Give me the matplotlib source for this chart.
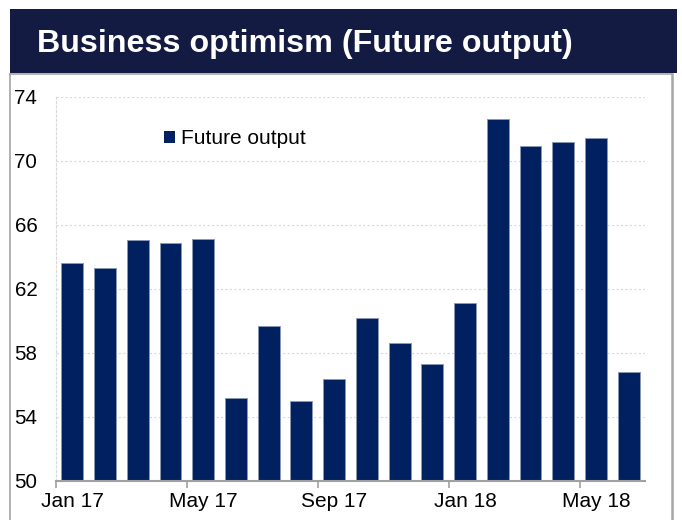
import matplotlib
matplotlib.use("Agg")
import matplotlib.pyplot as plt
from matplotlib.patches import Rectangle
from matplotlib.lines import Line2D

months = ["Jan 17", "Feb 17", "Mar 17", "Apr 17", "May 17", "Jun 17", "Jul 17", "Aug 17",
          "Sep 17", "Oct 17", "Nov 17", "Dec 17", "Jan 18", "Feb 18", "Mar 18", "Apr 18",
          "May 18", "Jun 18"]
future_output = [63.6, 63.3, 65.05, 64.9, 65.1, 55.2, 59.7, 55.0, 56.35, 60.2, 58.6, 57.3,
                 61.1, 72.6, 70.95, 71.2, 71.45, 56.8]
y_ticks = [50, 54, 58, 62, 66, 70, 74]
label_every = 4
title = "Business optimism (Future output)"
series_name = "Future output"

plt.rcParams['font.family'] = ['Liberation Sans', 'DejaVu Sans']

W, H = 682, 520
fig = plt.figure(figsize=(W / 100, H / 100), dpi=100)

def fx(px):
    return px / W

def fy(py):
    return 1 - py / H

# Title bar
fig.patches.append(Rectangle((fx(10), fy(73)), fx(677) - fx(10), fy(9) - fy(73),
                             transform=fig.transFigure, facecolor="#141B42", edgecolor="none", zorder=0))
fig.text(fx(37), fy(52), title, color="white", fontsize=23.2, fontweight="bold",
         va="baseline", ha="left")

# Panel border
border_c = "#a6a6a6"
fig.lines.append(Line2D([fx(10), fx(10)], [fy(74), 0], transform=fig.transFigure, color=border_c, lw=1.2))
fig.lines.append(Line2D([fx(10), fx(672)], [fy(74), fy(74)], transform=fig.transFigure, color=border_c, lw=1.2))
fig.lines.append(Line2D([fx(672), fx(672)], [fy(74), 0], transform=fig.transFigure, color=border_c, lw=1.8))

ax = fig.add_axes([fx(56), fy(481), fx(645) - fx(56), fy(97) - fy(481)])
x = list(range(len(months)))
ax.bar(x, future_output, width=0.67, bottom=0, color="#00205F", edgecolor="#8a98b8",
       linewidth=0.7, label=series_name, zorder=3)

ax.set_xlim(-0.5, len(months) - 0.5)
ax.set_ylim(y_ticks[0], y_ticks[-1])
ax.set_yticks(y_ticks)
ax.set_yticklabels([str(t) for t in y_ticks])
ax.tick_params(axis="y", length=0, pad=13.5, labelsize=14.8, colors="black")

major_pos = [i - 0.5 for i in range(0, len(months), label_every)]
minor_pos = list(range(0, len(months), label_every))
ax.set_xticks(major_pos)
ax.set_xticklabels([])
ax.set_xticks(minor_pos, minor=True)
ax.set_xticklabels([months[i] for i in minor_pos], minor=True)
ax.tick_params(axis="x", which="major", length=5, width=1.2, color="#a0a0a0", direction="out")
ax.tick_params(axis="x", which="minor", length=0, pad=8, labelsize=15, colors="black")

ax.grid(axis="y", linestyle=(0, (2, 2)), color="#d9d9d9", linewidth=0.8, zorder=0)
for s in ["top", "right"]:
    ax.spines[s].set_visible(False)
ax.spines["left"].set_linestyle((0, (2, 2)))
ax.spines["left"].set_color("#d9d9d9")
ax.spines["left"].set_linewidth(0.8)
ax.spines["bottom"].set_color("#a0a0a0")
ax.spines["bottom"].set_linewidth(1.5)
ax.spines["bottom"].set_zorder(4)

leg = ax.legend(loc="center left", bbox_to_anchor=((164 - 56) / 589, (481 - 139) / 384),
                frameon=False, fontsize=15, handlelength=0.55, handleheight=0.55,
                handletextpad=0.26, borderpad=0, borderaxespad=0)
for h in leg.legend_handles:
    h.set_edgecolor("none")

fig.savefig("out.png", dpi=100)
